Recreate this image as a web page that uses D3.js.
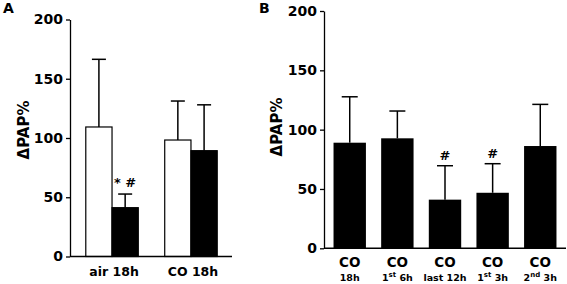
<html>
<head>
<meta charset="utf-8">
<style>
body { margin: 0; background: #fff; }
svg { font-family: "DejaVu Sans", sans-serif; font-weight: bold; }
.axis path, .axis line { stroke: #000; stroke-width: 1.3px; }
.axis text { font-size: 14px; font-weight: bold; fill: #000; font-family: "DejaVu Sans", sans-serif; }
.whisker { stroke: #000; stroke-width: 1.5px; }
</style>
</head>
<body>
<svg width="567" height="284"></svg>
<script src="https://cdn.jsdelivr.net/npm/d3@7"></script>
<script>
// panel A data
var groupsA = ["air 18h", "CO 18h"];
var whiteA = [109.3, 98.3];
var whiteErrA = [166.4, 131.2];
var blackA = [41.2, 89.3];
var blackErrA = [52.7, 128];

// panel B data
var catsB = ["18h", "1st 6h", "last 12h", "1st 3h", "2nd 3h"];
var subB = [["18h", "", ""], ["1", "st", " 6h"], ["last 12h", "", ""], ["1", "st", " 3h"], ["2", "nd", " 3h"]];
var valsB = [89, 92.7, 41, 46.8, 86.2];
var errB = [127.7, 115.7, 69.6, 71.3, 121.3];
var marksB = ["", "", "#", "#", ""];

var yTicks = [0, 50, 100, 150, 200];

var svg = d3.select("svg");

// ---------- panel A ----------
var xA = d3.scaleBand().domain(groupsA).range([70, 233]).paddingInner(0.335).paddingOuter(0.2);
var yA = d3.scaleLinear().domain([0, 200]).range([256.5, 19.5]);

svg.append("g").attr("class", "axis")
  .attr("transform", "translate(70,0)")
  .call(d3.axisLeft(yA).tickValues(yTicks).tickSize(4).tickSizeOuter(0).tickPadding(3));

var half = xA.bandwidth() / 2;
var barsA = [];
groupsA.forEach(function(g, i) {
  barsA.push({ x: xA(g), v: whiteA[i], e: whiteErrA[i], fill: "#fff" });
  barsA.push({ x: xA(g) + half, v: blackA[i], e: blackErrA[i], fill: "#000" });
});

svg.selectAll(".whA").data(barsA).enter().append("line")
  .attr("class", "whisker")
  .attr("x1", function(d) { return d.x + half / 2; })
  .attr("x2", function(d) { return d.x + half / 2; })
  .attr("y1", function(d) { return yA(d.v); })
  .attr("y2", function(d) { return yA(d.e); });
svg.selectAll(".capA").data(barsA).enter().append("line")
  .attr("class", "whisker")
  .attr("x1", function(d) { return d.x + half / 2 - 7; })
  .attr("x2", function(d) { return d.x + half / 2 + 7; })
  .attr("y1", function(d) { return yA(d.e); })
  .attr("y2", function(d) { return yA(d.e); });

svg.selectAll(".barA").data(barsA).enter().append("rect")
  .attr("x", function(d) { return d.x; })
  .attr("y", function(d) { return yA(d.v); })
  .attr("width", half)
  .attr("height", function(d) { return yA(0) - yA(d.v); })
  .attr("fill", function(d) { return d.fill; })
  .attr("stroke", "#000").attr("stroke-width", 1.2);

svg.append("line").attr("x1", 70).attr("x2", 232).attr("y1", yA(0)).attr("y2", yA(0))
  .attr("stroke", "#000").attr("stroke-width", 1.5);

svg.selectAll(".labA").data(groupsA).enter().append("text")
  .attr("x", function(d) { return xA(d) + xA.bandwidth() / 2 + 2; })
  .attr("y", 276)
  .attr("text-anchor", "middle")
  .attr("font-size", 12.5)
  .text(function(d) { return d; });

svg.append("text").attr("x", xA(groupsA[0]) + half * 1.5).attr("y", yA(blackErrA[0]) - 7)
  .attr("text-anchor", "middle").attr("font-size", 13).text("* #");

svg.append("text").attr("x", 3).attr("y", 13).attr("font-size", 14).text("A");
svg.append("text").attr("transform", "translate(29," + 130 + ") rotate(-90)")
  .attr("text-anchor", "middle").attr("font-size", 15).text("\u0394PAP%");

// ---------- panel B ----------
var xB = d3.scaleBand().domain(catsB).range([324, 566]).paddingInner(0.32).paddingOuter(0.2);
var yB = d3.scaleLinear().domain([0, 200]).range([248.3, 11]);

svg.append("g").attr("class", "axis")
  .attr("transform", "translate(324,0)")
  .call(d3.axisLeft(yB).tickValues(yTicks).tickSize(4).tickSizeOuter(0).tickPadding(3));

var bw = xB.bandwidth();
svg.selectAll(".whB").data(catsB).enter().append("line")
  .attr("class", "whisker")
  .attr("x1", function(d) { return xB(d) + bw / 2; })
  .attr("x2", function(d) { return xB(d) + bw / 2; })
  .attr("y1", function(d, i) { return yB(valsB[i]); })
  .attr("y2", function(d, i) { return yB(errB[i]); });
svg.selectAll(".capB").data(catsB).enter().append("line")
  .attr("class", "whisker")
  .attr("x1", function(d) { return xB(d) + bw / 2 - 8; })
  .attr("x2", function(d) { return xB(d) + bw / 2 + 8; })
  .attr("y1", function(d, i) { return yB(errB[i]); })
  .attr("y2", function(d, i) { return yB(errB[i]); });

svg.selectAll(".barB").data(catsB).enter().append("rect")
  .attr("x", function(d) { return xB(d); })
  .attr("y", function(d, i) { return yB(valsB[i]); })
  .attr("width", bw)
  .attr("height", function(d, i) { return yB(0) - yB(valsB[i]); })
  .attr("fill", "#000");

svg.append("line").attr("x1", 324).attr("x2", 566).attr("y1", yB(0)).attr("y2", yB(0))
  .attr("stroke", "#000").attr("stroke-width", 1.5);

svg.selectAll(".markB").data(catsB).enter().append("text")
  .attr("x", function(d) { return xB(d) + bw / 2; })
  .attr("y", function(d, i) { return yB(errB[i]) - 6; })
  .attr("text-anchor", "middle").attr("font-size", 13)
  .text(function(d, i) { return marksB[i]; });

var labB = svg.selectAll(".labB").data(catsB).enter().append("g");
labB.append("text")
  .attr("x", function(d) { return xB(d) + bw / 2; })
  .attr("y", 267).attr("text-anchor", "middle").attr("font-size", 13.5)
  .text("CO");
var sub = labB.append("text")
  .attr("x", function(d) { return xB(d) + bw / 2; })
  .attr("y", 281).attr("text-anchor", "middle").attr("font-size", 9.5);
sub.append("tspan").text(function(d, i) { return subB[i][0]; });
sub.append("tspan").attr("dy", -4).attr("font-size", 7).text(function(d, i) { return subB[i][1]; });
sub.append("tspan").attr("dy", function(d, i) { return subB[i][1] ? 4 : 0; }).text(function(d, i) { return subB[i][2]; });

svg.append("text").attr("x", 259).attr("y", 13).attr("font-size", 14).text("B");
svg.append("text").attr("transform", "translate(282," + 127 + ") rotate(-90)")
  .attr("text-anchor", "middle").attr("font-size", 15).text("\u0394PAP%");
</script>
</body>
</html>
